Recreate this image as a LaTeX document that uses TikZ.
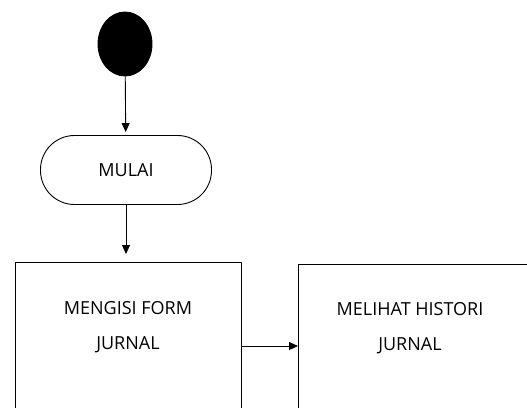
\documentclass[tikz,border=0pt]{standalone}
\usepackage{fontspec}
\setmainfont{Open Sans}
\usetikzlibrary{arrows.meta,shapes.geometric}
\begin{document}
\begin{tikzpicture}[x=1pt, y=-1pt, line width=0.9pt, line join=round, font=\fontsize{18}{35}\selectfont, >={Triangle[length=9pt,width=8pt]},
		kotak/.style={draw, minimum width=#1, minimum height=220pt, anchor=north west},
		teks/.style={align=center, inner sep=0pt}]
			\useasboundingbox (0,0) rectangle (527,407);
			\node[draw, fill, ellipse, minimum width=54pt, minimum height=64pt, inner sep=0pt] (awal) at (125,44) {};
			\node[draw, rounded corners=34pt, minimum width=171pt, minimum height=69pt] (mulai) at (126,170) {MULAI};
			\node[kotak=226pt] (isi) at (15,262) {};
			\node[teks] (isiteks) at (128,327) {MENGISI FORM\\JURNAL};
			\node[kotak=260pt] (histori) at (298,264) {};
			\node[teks] (historiteks) at (410,328) {MELIHAT HISTORI\\JURNAL};
			\coordinate (tengah) at (0,346);
			\draw[->, shorten >=3pt] (awal) -- (mulai);
			\draw[->, shorten >=8pt] (mulai.south) -- (mulai.south |- isi.north);
			\draw[->] (isi.east |- tengah) -- (histori.west |- tengah);
		\end{tikzpicture}
\end{document}
